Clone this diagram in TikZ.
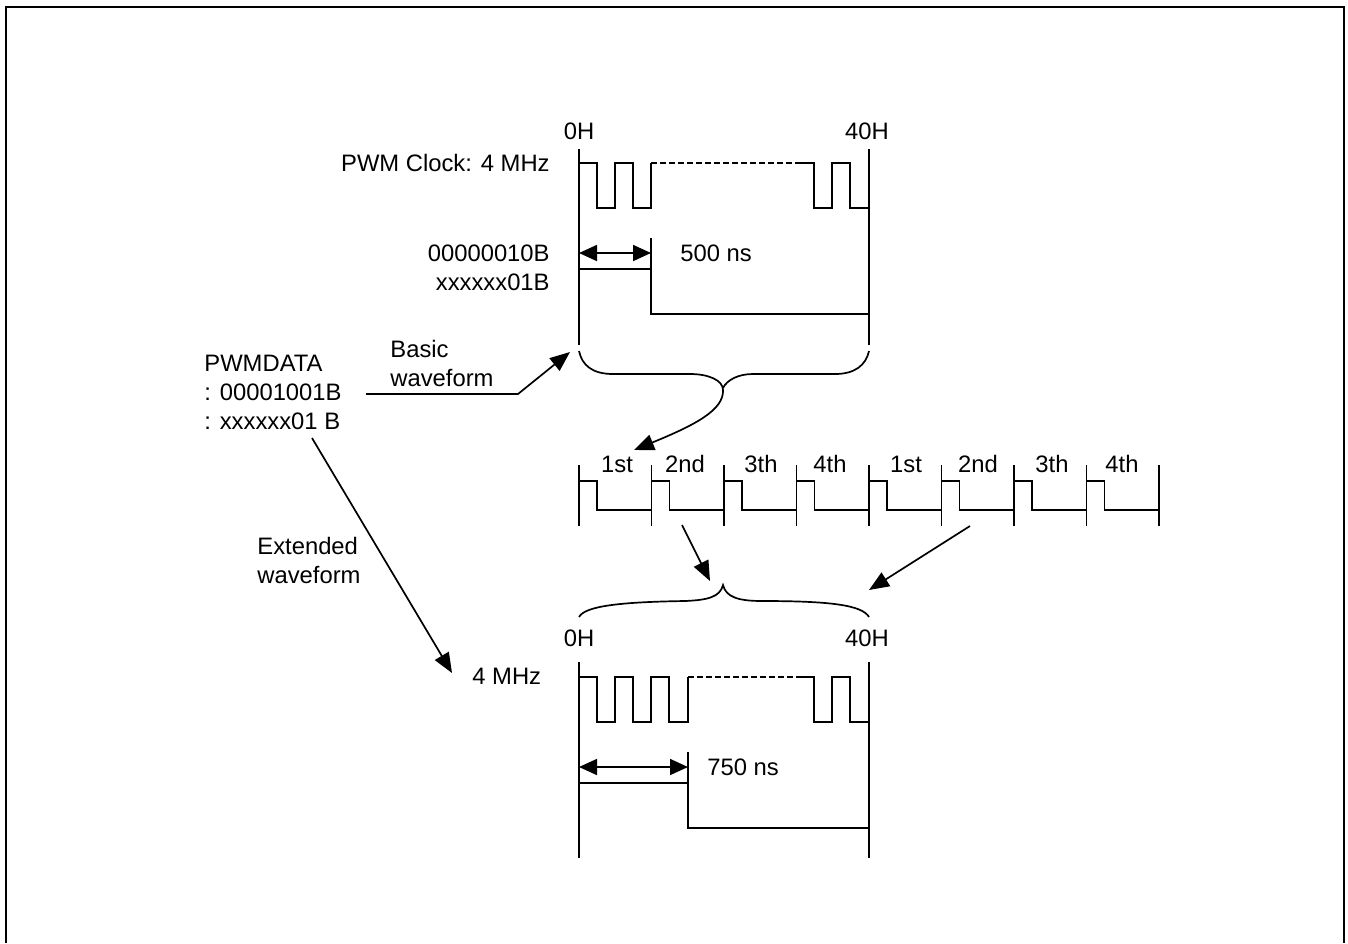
\documentclass[tikz,border=0pt]{standalone}
\usepackage{fontspec}
\setmainfont{Liberation Sans}
\usetikzlibrary{arrows.meta}
\tikzset{
  x=0.5pt,y=-0.5pt,
  wave/.style={draw=black,line width=0.9pt,line join=miter},
  conn/.style={draw=black,line width=0.85pt,-{Triangle[length=10pt,width=8pt]}},
  dimarrow/.style={draw=black,line width=0.85pt,{Triangle[length=9pt,width=8pt]}-{Triangle[length=9pt,width=8pt]}},
  txt/.style={inner sep=0pt,font=\fontsize{11.9pt}{14pt}\selectfont,text=black},
  lbl/.style={txt,anchor=base west},
  lblr/.style={txt,anchor=base east},
  lblc/.style={txt,anchor=base},
}
\begin{document}
\begin{tikzpicture}
\useasboundingbox (0,0) rectangle (1348,943);
\draw[black,line width=1pt] (6,943) -- (6,7) -- (1343.5,7) -- (1343.5,943);
% top block
\node[lblc] (t0) at (579,139) {0H};
\node[lblc] (t40) at (867,139) {40H};
\node[lblr] (pwmclk) at (550,171) {PWM Clock: 4 MHz};
\node[lblr] (l1) at (550,261) {00000010B};
\node[lblr] (l2) at (550,290) {xxxxxx01B};
\node[lbl] (ns1) at (680,261) {500 ns};
\coordinate (a1) at (579,253); \coordinate (a2) at (651,253);
\draw[wave] (579,149) -- (579,345);
\draw[wave] (869,149) -- (869,345);
\draw[wave] (579,163) -| (597,208) -| (615,163) -| (633,208) -| (651,163);
\draw[wave,dash pattern=on 3pt off 1.5pt] (651,163) -- (796,163);
\draw[wave] (796,163) -| (814,208) -| (832,163) -| (850,208) -| (869,208);
\draw[wave] (651,238) -- (651,314) -- (869,314);
\draw[wave] (579,269) -- (651,269);
\draw[dimarrow] (a1) -- (a2);
% basic brace and arrow
\coordinate (b1) at (579,351);
\coordinate (bm) at (723,390);
\coordinate (b2) at (869,351);
\coordinate (b3) at (634,450);
\draw[conn] (b1) .. controls (582,365) and (592,374) .. (613,374) -- (690,374)
  .. controls (708,374) and (723,380) .. (bm)
  .. controls (724,410) and (695,425) .. (b3);
\draw[wave,line width=0.85pt] (723,388) .. controls (727,380) and (738,374) .. (753,374) -- (835,374)
  .. controls (855,374) and (866,365) .. (b2);
\node[lbl] (pd1) at (204,371) {PWMDATA};
\node[lbl] (pd2) at (204,400) {: 00001001B};
\node[lbl] (pd3) at (204,429) {: xxxxxx01 B};
\node[lbl] (bas1) at (390,357) {Basic};
\node[lbl] (bas2) at (390,386) {waveform};
\coordinate (c1) at (366,394); \coordinate (c2) at (518,394); \coordinate (c3) at (570,352);
\draw[conn] (c1) -- (c2) -- (c3);
\coordinate (e1) at (312,438); \coordinate (e2) at (452,673);
\draw[conn] (e1) -- (e2);
\node[lbl] (ext1) at (257,554) {Extended};
\node[lbl] (ext2) at (257,583) {waveform};
\node[lbl] (mhz) at (472,684) {4 MHz};
% middle row
\foreach \i/\t/\cx in {0/1st/617,1/2nd/685,2/3th/761,3/4th/830,4/1st/906,5/2nd/978,6/3th/1052,7/4th/1122}{
  \pgfmathsetmacro{\xa}{579+72.5*\i}
  \pgfmathsetmacro{\xb}{\xa+18}
  \pgfmathsetmacro{\xc}{\xa+72.5}
  \draw[wave] (\xa,465) -- (\xa,526);
  \draw[wave] (\xa,481) -| (\xb,510) -- (\xc,510);
  \node[lblc] (m\i) at (\cx,472) {\t};
}
\draw[wave] (1159,465) -- (1159,526);
\coordinate (f1) at (682,525); \coordinate (f2) at (710,581);
\draw[conn] (f1) -- (f2);
\coordinate (g1) at (970,526); \coordinate (g2) at (869,590);
\draw[conn] (g1) -- (g2);
% lower brace
\coordinate (h1) at (579,617); \coordinate (hm) at (723,585); \coordinate (h2) at (869,617);
\draw[wave,line width=0.85pt] (h1) .. controls (585,606) and (620,602) .. (685,601)
  .. controls (708,600) and (720,597) .. (hm)
  .. controls (726,597) and (738,601) .. (762,601)
  .. controls (830,601) and (862,605) .. (h2);
% bottom block
\node[lblc] (b0) at (579,646) {0H};
\node[lblc] (b40) at (867,646) {40H};
\node[lbl] (ns2) at (707,775) {750 ns};
\draw[wave] (579,662) -- (579,858);
\draw[wave] (869,662) -- (869,858);
\draw[wave] (579,677) -| (597,722) -| (615,677) -| (633,722) -| (651,677) -| (669,722) -| (688,677);
\draw[wave,dash pattern=on 3pt off 1.5pt] (688,677) -- (796,677);
\draw[wave] (796,677) -| (814,722) -| (832,677) -| (850,722) -| (869,722);
\draw[wave] (688,752) -- (688,828) -- (869,828);
\draw[wave] (579,783) -- (688,783);
\coordinate (d1) at (579,767); \coordinate (d2) at (688,767);
\draw[dimarrow] (d1) -- (d2);
\end{tikzpicture}
\end{document}
